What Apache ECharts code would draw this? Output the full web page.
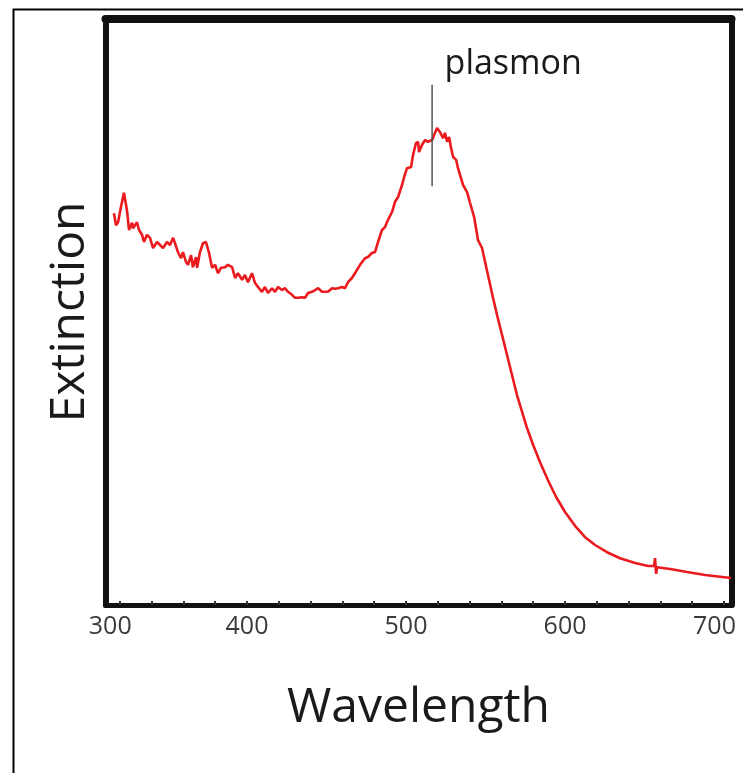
<!DOCTYPE html>
<html>
<head>
<meta charset="utf-8">
<script src="https://cdn.jsdelivr.net/npm/echarts@6/dist/echarts.min.js"></script>
<style>
html,body{margin:0;padding:0;background:#fff;}
#chart{width:743px;height:773px;}
</style>
</head>
<body>
<div id="chart"></div>
<script>
// Wavelength (nm) and extinction (arbitrary units)
const wavelengths = [316.3,317.6,318.9,320.7,322.6,324.5,325.8,327.7,328.3,330.8,332.1,334.0,335.2,337.1,339.0,340.9,343.4,345.3,347.2,349.7,351.6,353.5,354.7,356.6,358.5,359.7,361.6,362.9,364.8,366.0,367.9,368.6,370.4,372.3,374.2,376.1,378.0,379.9,381.8,383.6,386.2,388.0,390.6,392.5,394.3,396.9,398.7,400.6,403.1,405.0,406.9,409.4,411.3,413.2,415.7,417.6,419.5,422.0,423.9,425.8,428.3,430.2,432.1,434.6,436.5,438.4,440.9,442.8,444.7,447.2,449.1,450.9,453.5,455.4,457.2,459.8,461.6,463.5,466.0,467.9,471.1,474.2,476.1,478.6,480.5,482.4,484.9,486.8,488.7,491.2,493.1,495.0,497.5,498.8,500.6,503.2,504.4,506.3,507.6,508.2,510.1,512.0,513.8,516.4,517.6,519.5,521.4,523.3,524.5,525.8,527.1,528.3,529.6,531.5,532.7,535.9,538.4,540.3,542.8,545.3,547.8,549.7,552.2,554.7,557.3,560.4,563.5,566.7,569.8,573.0,576.1,579.9,584.3,589.3,594.4,600.0,606.3,612.6,618.9,626.4,634.6,644.1,652.2,656.0,656.6,657.3,657.9,666.1,676.8,688.1,704.4];
const extinction = [65.3,63.3,63.8,66.3,68.7,65.8,62.5,63.7,62.8,63.8,62.5,61.7,60.5,61.7,61.2,59.5,60.5,60.0,59.5,60.5,60.0,61.2,60.3,58.8,57.8,58.8,57.2,56.7,58.3,56.3,58.0,56.2,58.8,60.3,60.5,58.7,56.2,56.7,55.3,56.2,56.3,56.7,56.3,54.5,55.3,54.2,55.0,53.8,55.3,53.7,53.0,52.2,53.0,52.0,52.8,52.2,53.0,52.5,52.8,52.2,51.7,51.2,51.2,51.3,51.2,52.0,52.2,52.5,52.8,52.2,52.2,52.2,52.8,52.7,52.8,53.0,52.8,53.8,54.5,55.3,56.7,57.8,58.0,58.7,58.8,60.5,62.5,63.0,64.2,65.5,67.2,68.0,70.0,71.3,72.8,73.0,75.0,77.0,77.2,75.5,76.7,77.5,77.2,77.5,78.3,79.5,78.8,77.8,78.7,77.2,78.0,76.2,74.7,74.2,72.8,70.0,68.8,67.0,64.7,60.8,59.5,57.2,54.2,51.2,48.3,45.0,41.7,38.3,35.0,32.2,29.5,26.7,23.8,20.8,18.0,15.5,13.2,11.3,10.0,8.8,7.8,7.0,6.5,6.5,7.8,5.2,6.3,6.0,5.5,5.0,4.5];

// plasmon marker
const plasmonWavelength = [516.4];
const plasmonMarkerRange = [69.8, 86.7];
const plasmonText = 'plasmon';

// axis ticks and labels
const tickValues = [320,340,360,380,400,420,440,460,480,500,520,540,560,580,600,620,640,660,680,700];
const labelValues = [314, 400, 500, 600, 694];
const xRange = [311, 704.7];
const yRange = [0, 97.67];

const spectrum = wavelengths.map((w, i) => [w, extinction[i]]);
const marker = plasmonMarkerRange.map(v => [plasmonWavelength[0], v]);

const chart = echarts.init(document.getElementById('chart'), null, {renderer: 'canvas'});
const font = '"Open Sans", "Liberation Sans", sans-serif';
chart.setOption({
  animation: false,
  backgroundColor: '#ffffff',
  grid: {left: 105.5, right: 11.5, top: 19, bottom: 168, containLabel: false},
  graphic: [{
    type: 'rect', left: 11, top: 7, silent: true,
    shape: {width: 760, height: 790},
    style: {fill: 'none', stroke: '#000', lineWidth: 2}
  }],
  xAxis: [{
    type: 'value', min: xRange[0], max: xRange[1],
    name: 'Wavelength', nameLocation: 'middle', nameGap: 79,
    nameTextStyle: {fontFamily: font, fontSize: 48, color: '#1a1a1a'},
    axisLine: {show: true, onZero: false, lineStyle: {color: '#111', width: 5}},
    axisTick: {show: true, inside: true, length: 4, customValues: tickValues, lineStyle: {color: '#333', width: 2}},
    axisLabel: {show: true, customValues: labelValues, margin: 9,
      formatter: v => String(Math.round(v / 100) * 100),
      fontFamily: font, fontSize: 25, color: '#3a3a3a'},
    splitLine: {show: false}
  }, {
    type: 'value', min: xRange[0], max: xRange[1], position: 'top',
    axisLine: {show: true, onZero: false, lineStyle: {color: '#111', width: 8}},
    axisTick: {show: false}, axisLabel: {show: false}, splitLine: {show: false}
  }],
  yAxis: [{
    type: 'value', min: yRange[0], max: yRange[1],
    name: 'Extinction', nameLocation: 'middle', nameGap: 11, nameRotate: 90,
    nameTextStyle: {fontFamily: font, fontSize: 48, color: '#1a1a1a'},
    axisLine: {show: true, onZero: false, lineStyle: {color: '#111', width: 6}},
    axisTick: {show: false}, axisLabel: {show: false}, splitLine: {show: false}
  }, {
    type: 'value', min: yRange[0], max: yRange[1], position: 'right',
    axisLine: {show: true, onZero: false, lineStyle: {color: '#111', width: 6}},
    axisTick: {show: false}, axisLabel: {show: false}, splitLine: {show: false}
  }],
  series: [{
    type: 'line', data: spectrum, xAxisIndex: 0, yAxisIndex: 0,
    showSymbol: false, symbol: 'none',
    lineStyle: {color: '#ea1a1e', width: 2.6},
    z: 3
  }, {
    type: 'line', data: marker, xAxisIndex: 0, yAxisIndex: 0,
    showSymbol: false, symbol: 'none',
    lineStyle: {color: '#555', width: 1.5},
    z: 4
  }, {
    type: 'scatter', xAxisIndex: 0, yAxisIndex: 0,
    data: [marker[1]], symbolSize: 1,
    itemStyle: {color: 'rgba(0,0,0,0)', opacity: 1},
    label: {show: true, position: 'right', distance: 0, offset: [12, -21],
      formatter: plasmonText, fontFamily: font, fontSize: 34, color: '#1a1a1a'},
    z: 5
  }]
});
</script>
</body>
</html>
